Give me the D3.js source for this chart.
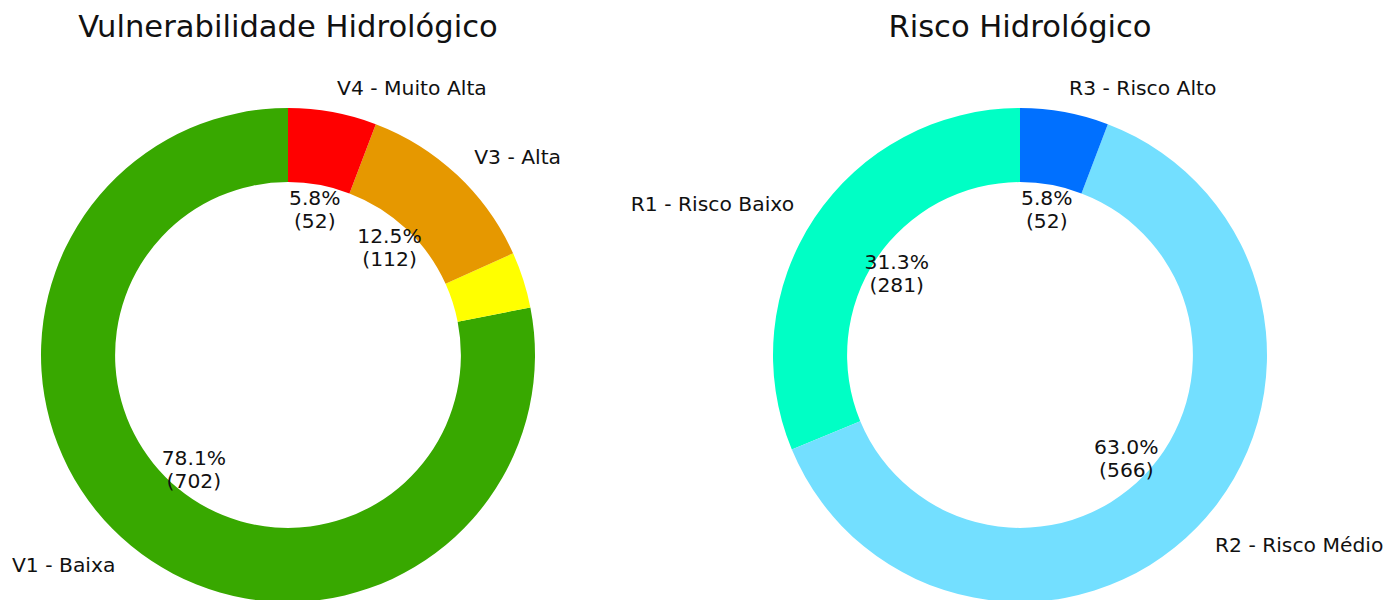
<!DOCTYPE html>
<html>
<head>
<meta charset="utf-8">
<script src="https://cdn.jsdelivr.net/npm/d3@7"></script>
<style>
  body { margin: 0; background: #fff; }
  svg text { font-family: "DejaVu Sans", sans-serif; fill: #111; }
</style>
</head>
<body>
<svg id="chart" width="1386" height="600"></svg>
<script>
// Vulnerabilidade
const vulnLabels = ["V1 - Baixa", "V2 - Média", "V3 - Alta", "V4 - Muito Alta"];
const vulnValues = [702, 33, 112, 52];
const vulnColors = ["#38a800", "#ffff00", "#e69800", "#ff0000"];

// Risco
const riscoLabels = ["R1 - Risco Baixo", "R2 - Risco Médio", "R3 - Risco Alto"];
const riscoValues = [281, 566, 52];
const riscoColors = ["#00ffc5", "#73dfff", "#0070ff"];

const svg = d3.select("#chart");
const outerR = 247;
const innerR = outerR * 0.7;

function drawDonut(cx, title, labels, values, colors) {
    const total = d3.sum(values);
    const data = values.map((v, i) => ({ label: labels[i], value: v, color: colors[i] }));

    // matplotlib style: start at top, counter-clockwise
    const pie = d3.pie().sort(null).value((d) => d.value).startAngle(0).endAngle(-2 * Math.PI);
    const arc = d3.arc().innerRadius(innerR).outerRadius(outerR);

    const g = svg.append("g").attr("transform", `translate(${cx},355)`);

    svg.append("text")
        .attr("x", cx)
        .attr("y", 37)
        .attr("text-anchor", "middle")
        .attr("font-size", 30.6)
        .text(title);

    const arcs = pie(data);

    g.selectAll("path")
        .data(arcs)
        .enter()
        .append("path")
        .attr("d", arc)
        .attr("fill", (d) => d.data.color);

    // only slices >= 5% get labels
    const shown = arcs.filter((d) => d.data.value / total >= 0.05);

    const pos = (d, r) => {
        const a = (d.startAngle + d.endAngle) / 2;
        return [Math.sin(a) * r, -Math.cos(a) * r];
    };

    g.selectAll("text.lbl")
        .data(shown)
        .enter()
        .append("text")
        .attr("class", "lbl")
        .attr("x", (d) => pos(d, outerR * 1.1)[0])
        .attr("y", (d) => pos(d, outerR * 1.1)[1])
        .attr("dy", "0.36em")
        .attr("font-size", 20.3)
        .attr("text-anchor", (d) => (pos(d, 1)[0] > 0 ? "start" : "end"))
        .text((d) => d.data.label);

    const pct = g.selectAll("text.pct")
        .data(shown)
        .enter()
        .append("text")
        .attr("class", "pct")
        .attr("font-size", 20.3)
        .attr("text-anchor", "middle");

    pct.append("tspan")
        .attr("x", (d) => pos(d, outerR * 0.6)[0])
        .attr("y", (d) => pos(d, outerR * 0.6)[1] - 4)
        .text((d) => (d.data.value / total * 100).toFixed(1) + "%");

    pct.append("tspan")
        .attr("x", (d) => pos(d, outerR * 0.6)[0])
        .attr("y", (d) => pos(d, outerR * 0.6)[1] + 19)
        .text((d) => `(${d.data.value})`);
}

drawDonut(288, "Vulnerabilidade Hidrológico", vulnLabels, vulnValues, vulnColors);
drawDonut(1020, "Risco Hidrológico", riscoLabels, riscoValues, riscoColors);
</script>
</body>
</html>
